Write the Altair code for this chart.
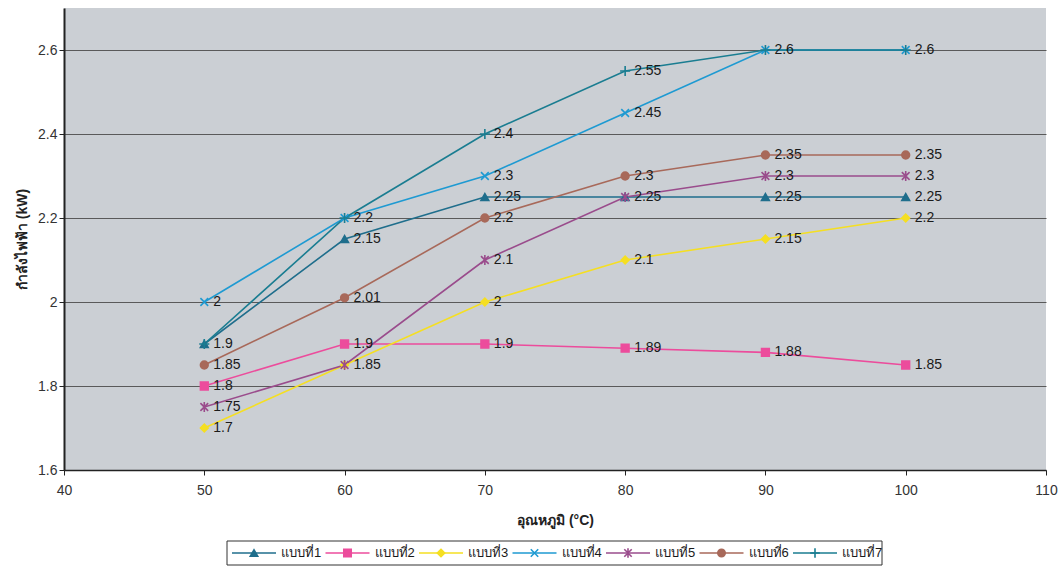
import altair as alt
import pandas as pd

# Temperatures (°C) and electric power (kW) for each configuration
temps = [50, 60, 70, 80, 90, 100]
series_names = ["แบบที่1", "แบบที่2", "แบบที่3", "แบบที่4", "แบบที่5", "แบบที่6", "แบบที่7"]
s1 = [1.9, 2.15, 2.25, 2.25, 2.25, 2.25]
s2 = [1.8, 1.9, 1.9, 1.89, 1.88, 1.85]
s3 = [1.7, 1.85, 2.0, 2.1, 2.15, 2.2]
s4 = [2.0, 2.2, 2.3, 2.45, 2.6, 2.6]
s5 = [1.75, 1.85, 2.1, 2.25, 2.3, 2.3]
s6 = [1.85, 2.01, 2.2, 2.3, 2.35, 2.35]
s7 = [1.9, 2.2, 2.4, 2.55, 2.6, 2.6]
all_values = [s1, s2, s3, s4, s5, s6, s7]
y_ticks = [1.6, 1.8, 2.0, 2.2, 2.4, 2.6]
x_ticks = [40, 50, 60, 70, 80, 90, 100, 110]

colors = ["#1F6E8C", "#EC4C9C", "#F5DF22", "#1E9AD2", "#9A4C8C", "#A8695A", "#1A7D91"]
shapes = [
    "triangle-up",
    "square",
    "diamond",
    "M-1,-1L1,1M-1,1L1,-1",
    "M-1,-1L1,1M-1,1L1,-1M0,-1.3L0,1.3",
    "circle",
    "M-1.3,0L1.3,0M0,-1.3L0,1.3",
]

rows = []
for name, vals in zip(series_names, all_values):
    for t, v in zip(temps, vals):
        rows.append({"series": name, "temp": t, "power": v, "label": f"{v:g}"})
df = pd.DataFrame(rows)
# one value label per distinct point where series coincide
label_df = df.drop_duplicates(["temp", "power"])

legend_df = pd.DataFrame({"series": series_names, "idx": list(range(len(series_names)))})

FONT = "Liberation Sans, DejaVu Sans, sans-serif"

color_scale = alt.Scale(domain=series_names, range=colors)
shape_scale = alt.Scale(domain=series_names, range=shapes)

x_enc = alt.X(
    "temp:Q",
    scale=alt.Scale(domain=[40, 110], nice=False),
    axis=alt.Axis(
        values=x_ticks,
        title="อุณหภูมิ (°C)",
        grid=False,
        labelFontSize=14,
        labelColor="#333333",
        labelPadding=8,
        labelFlush=False,
        titleFontSize=14,
        titleFontWeight="bold",
        titleColor="#222222",
        titlePadding=16,
        tickSize=5,
        tickColor="#222222",
        domainColor="#222222",
        domainWidth=1.5,
    ),
)
y_enc = alt.Y(
    "power:Q",
    scale=alt.Scale(domain=[1.6, 2.7], nice=False, zero=False),
    axis=alt.Axis(
        values=y_ticks,
        title="กำลังไฟฟ้า (kW)",
        format="~g",
        grid=True,
        gridColor="#5a5a5a",
        gridWidth=1,
        labelFontSize=14,
        labelColor="#333333",
        titleFontSize=14,
        titleFontWeight="bold",
        titleColor="#222222",
        titlePadding=8,
        tickSize=5,
        tickColor="#222222",
        domainColor="#222222",
        domainWidth=2,
    ),
)

base = alt.Chart(df)

lines = base.mark_line(strokeWidth=1.6).encode(
    x=x_enc,
    y=y_enc,
    color=alt.Color("series:N", scale=color_scale, legend=None),
    detail="series:N",
)

points = base.mark_point(filled=True, size=60, strokeWidth=1.6, opacity=1).encode(
    x="temp:Q",
    y="power:Q",
    color=alt.Color("series:N", scale=color_scale, legend=None),
    stroke=alt.Stroke("series:N", scale=color_scale, legend=None),
    shape=alt.Shape("series:N", scale=shape_scale, legend=None),
)

labels = alt.Chart(label_df).mark_text(
    align="left", baseline="middle", dx=9, fontSize=14, font=FONT, color="#1a1a1a"
).encode(
    x="temp:Q",
    y="power:Q",
    text="label:N",
)

# Legend drawn below the plot: box, line samples with markers, names
leg_x = alt.X("idx:Q", scale=alt.Scale(domain=[0, 6], range=[168, 729]), axis=None)
leg_base = alt.Chart(legend_df)

leg_box = alt.Chart(pd.DataFrame({"k": [0]})).mark_rect(
    fill="white", stroke="#333333", strokeWidth=1
).encode(x=alt.value(163), x2=alt.value(818), y=alt.value(533), y2=alt.value(557))

leg_lines = leg_base.mark_rule(strokeWidth=1.6, x2Offset=44).encode(
    x=leg_x,
    x2="idx:Q",
    y=alt.value(545),
    color=alt.Color("series:N", scale=color_scale, legend=None),
)
leg_points = leg_base.mark_point(filled=True, size=55, strokeWidth=1.6, opacity=1, xOffset=22).encode(
    x=leg_x,
    y=alt.value(545),
    color=alt.Color("series:N", scale=color_scale, legend=None),
    stroke=alt.Stroke("series:N", scale=color_scale, legend=None),
    shape=alt.Shape("series:N", scale=shape_scale, legend=None),
)
leg_text = leg_base.mark_text(align="left", baseline="middle", dx=49, fontSize=13, font=FONT, color="#1a1a1a").encode(
    x=leg_x,
    y=alt.value(545),
    text="series:N",
)

legend_layer = alt.layer(leg_box, leg_lines, leg_points, leg_text)

chart = (
    alt.layer(alt.layer(lines, points, labels), legend_layer)
    .resolve_scale(x="independent")
    .properties(width=982, height=462, padding={"left": 15, "top": 8, "right": 5, "bottom": 5}, background="white")
    .configure_view(fill="#CBCFD4", stroke=None)
    .configure_axis(labelFont=FONT, titleFont=FONT)
)

chart.save("out.html", embed_options={"renderer": "svg", "actions": False})
